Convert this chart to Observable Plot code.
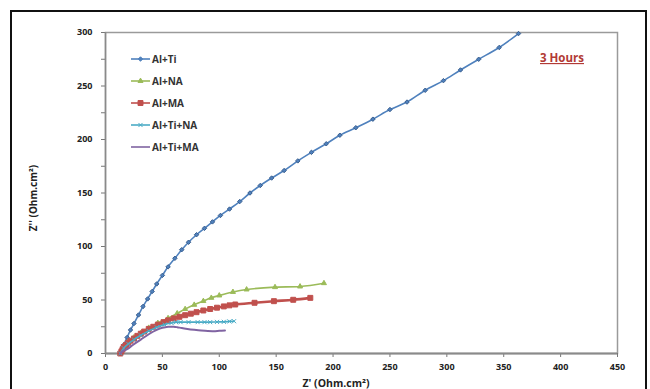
<!DOCTYPE html>
<html><head><meta charset="utf-8">
<script src="https://cdn.jsdelivr.net/npm/d3@7"></script>
<script src="https://cdn.jsdelivr.net/npm/@observablehq/plot@0.6"></script>
<style>
body{margin:0;background:#fff;}
#wrap{position:relative;width:650px;height:389px;overflow:hidden;}
#frame{position:absolute;left:10px;top:10px;width:637px;height:400px;border:2px solid #111;box-sizing:border-box;pointer-events:none}
</style></head><body><div id="wrap"><div id="frame"></div></div>
<script>
// ---- data (Z', Z'') ----
const seriesNames = ["Al+Ti", "Al+NA", "Al+MA", "Al+Ti+NA", "Al+Ti+MA"];
const xTicks = [0, 50, 100, 150, 200, 250, 300, 350, 400, 450];
const yTicks = [0, 50, 100, 150, 200, 250, 300];
const yMinorTicks = [25, 75, 125, 175, 225, 275];

const alTi = [[13,0],[16,8],[19,15],[22,22],[25,28],[29,36],[33,44],[37,51],[41,58],[45,65],[50,73],[55,81],[61,89],[67,97],[73,104],[80,111],[87,117],[94,123],[101,129],[109,135],[118,142],[127,150],[136,157],[146,164],[157,171],[169,180],[181,188],[194,196],[206,204],[220,211],[235,219],[250,228],[265,235],[281,246],[297,255],[312,265],[328,275],[346,286],[363,299]];
const alNA = [[13,0],[16,6],[20,11],[25,15],[31,19],[38,24],[46,28.5],[55,33],[63,37.5],[70,41.5],[78,45.5],[86,49],[93,52],[100,54.2],[112,57.5],[124,59.8],[149,62],[171,62.6],[192,65.7]];
const alMA = [[13,0],[14,2],[15,4],[16,6],[18,8],[20,10],[22,12],[25,14],[28,16.5],[31,18.5],[34,20.5],[38,23],[42,25],[46,27],[51,29.3],[55,31],[60,32.8],[65,34.3],[70,35.8],[75,37.2],[80,38.6],[86,40.2],[92,41.6],[98,42.8],[104,44],[109,45],[114,45.8],[131,47.4],[148,48.9],[165,50.2],[180,52]];
const alTiNA = [[13,0],[16,5],[20,9],[25,13],[31,17],[38,21],[45,24.5],[52,27],[58,28.5],[62,29.3],[66,29.3],[73,29.3],[81,29.3],[87,29.3],[92,29.3],[98,29.5],[104,29.6],[109,30],[113,30.2]];
const alTiMA = [[13,0],[15,2],[19,4],[24,8],[31,13],[38,18],[45,22],[50,24],[55,25],[60,25],[63,24.6],[67,23.8],[72,23],[78,22.2],[84,21.5],[90,21],[95,20.9],[100,21.2],[105,21.5]];

// ---- styles ----
const seriesData = [alTi, alNA, alMA, alTiNA, alTiMA];
const colors = ["#4F81BD", "#9BBB59", "#C0504D", "#4BACC6", "#8064A2"];
const symbols = ["diamond2", "triangle2", "square", "times", null];
const dotR = [2, 2.4, 2.8, 2, 0];
const lineW = [1.6, 1.6, 2.6, 1.6, 2];

const marks = [
  Plot.frame({stroke: "#9a9a9a", strokeWidth: 1.5}),
  Plot.axisY({ticks: yMinorTicks, tickFormat: () => "", tickSize: 4, stroke: "#777"}),
  Plot.axisY({ticks: yTicks, tickSize: 4, tickPadding: 9, stroke: "#777"}),
  Plot.axisX({ticks: xTicks, tickSize: 4, tickPadding: 6, stroke: "#777"}),
  Plot.ruleY([0], {stroke: "#8a8a8a", strokeWidth: 2}),
  Plot.ruleX([0], {stroke: "#8a8a8a", strokeWidth: 1.5})
];
seriesData.forEach((d, i) => {
  marks.push(Plot.line(d, {x: p => p[0], y: p => p[1], stroke: colors[i], strokeWidth: lineW[i], curve: "catmull-rom"}));
  if (symbols[i]) marks.push(Plot.dot(d, {x: p => p[0], y: p => p[1], symbol: symbols[i], r: dotR[i], fill: colors[i], stroke: i===0 ? "#3a5f8f" : colors[i], strokeWidth: 1}));
});

const plot = Plot.plot({
  width: 650, height: 389,
  marginLeft: 105, marginRight: 33, marginTop: 32, marginBottom: 36,
  style: {fontFamily: "'Open Sans', sans-serif", fontSize: "9px", fontWeight: "bold", color: "#222", background: "transparent", overflow: "visible"},
  x: {domain: [0, 450], label: null, axis: null},
  y: {domain: [0, 300], label: null, axis: null},
  marks
});
document.getElementById("wrap").prepend(plot);

const svg = d3.select(plot);
svg.append("text").attr("transform", "translate(37,198) rotate(-90)")
  .attr("text-anchor", "middle").attr("font-size", 10).attr("font-weight", "bold").attr("fill", "#222")
  .text("Z'' (Ohm.cm²)");
svg.append("text").attr("x", 336).attr("y", 387)
  .attr("text-anchor", "middle").attr("font-size", 10.5).attr("font-weight", "bold").attr("fill", "#222")
  .text("Z' (Ohm.cm²)");
svg.append("text").attr("x", 562).attr("y", 62)
  .attr("text-anchor", "middle").attr("font-size", 11.5).attr("font-weight", "bold").attr("fill", "#B23A35")
  .attr("text-decoration", "underline")
  .text("3 Hours");

const leg = svg.append("g");
seriesNames.forEach((name, i) => {
  const y = 59 + i * 22;
  leg.append("line").attr("x1", 131).attr("x2", 150).attr("y1", y).attr("y2", y)
    .attr("stroke", colors[i]).attr("stroke-width", 1.6);
  if (symbols[i]) {
    const sym = {diamond2: d3.symbolDiamond2, triangle2: d3.symbolTriangle2, square: d3.symbolSquare, times: d3.symbolTimes}[symbols[i]];
    leg.append("path").attr("d", d3.symbol(sym, Math.PI * dotR[i] * dotR[i])()).attr("transform", `translate(140.5,${y})`)
      .attr("fill", colors[i]).attr("stroke", colors[i]);
  }
  leg.append("text").attr("x", 152).attr("y", y).attr("dy", "0.35em").attr("text-anchor", "start")
    .attr("font-size", 10).attr("font-weight", "bold").attr("fill", "#333").text(name);
});
</script>
</body></html>
